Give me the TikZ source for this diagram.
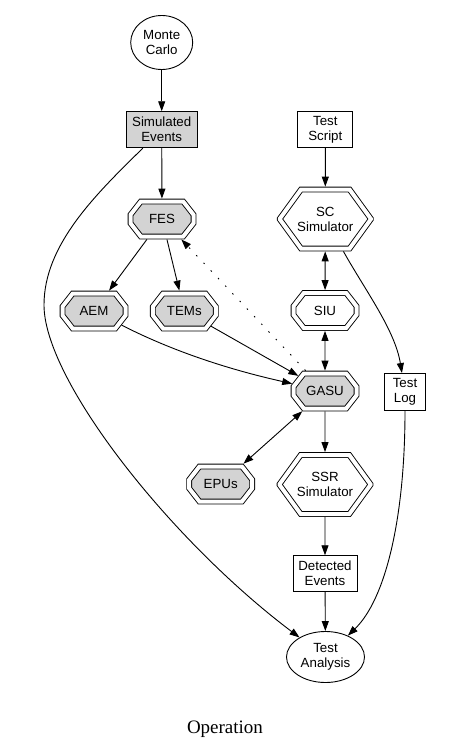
\documentclass[tikz,border=0pt]{standalone}
\usepackage{fontspec}
\setmainfont{Liberation Serif}
\setsansfont{Liberation Sans}
\usepackage{tikz}
\usetikzlibrary{positioning,arrows.meta,shapes.geometric,shapes.misc}
\definecolor{simgray}{RGB}{211,211,211}

\begin{document}
\begin{tikzpicture}[
    x=1pt, y=-1pt,
    every node/.style={align=center, inner sep=0pt, line width=0.9pt, font=\sffamily\fontsize{13.3}{15}\selectfont},
    box/.style={draw, rectangle, minimum height=36pt},
    oval/.style={draw, ellipse},
    octo/.style={draw, chamfered rectangle, chamfered rectangle xsep=11pt, chamfered rectangle ysep=8.5pt,
        chamfered rectangle angle=38, double, double distance=4pt, minimum width=63pt, minimum height=35pt, outer sep=2.9pt},
    bigocto/.style={octo, chamfered rectangle xsep=23pt, chamfered rectangle ysep=17pt,
        chamfered rectangle angle=36, minimum width=91pt, minimum height=59pt},
    shaded/.style={fill=simgray},
    flow/.style={draw, line width=0.9pt, -{Triangle[length=10pt,width=7pt]}},
    flowboth/.style={flow, {Triangle[length=10pt,width=7pt]}-{Triangle[length=10pt,width=7pt]}}
]
    \useasboundingbox (0,0) rectangle (448,752);

    % left column
    \node[oval, minimum width=62pt, minimum height=54pt] (mc) at (161.7,42.5) {Monte\\Carlo};
    \node[box, shaded, minimum width=71pt] (simev) at (161.7,129.7) {Simulated\\Events};
    \node[octo, shaded] (fes) at (162,219) {FES};
    \node[octo, shaded] (aem) at (94,311) {AEM};
    \node[octo, shaded] (tems) at (184.3,311) {TEMs};
    \node[octo, shaded] (epus) at (220.7,484) {EPUs};

    % right column
    \node[box, minimum width=55pt] (script) at (325.3,129.5) {Test\\Script};
    \node[bigocto] (scsim) at (325.3,219) {SC\\Simulator};
    \node[octo] (siu) at (325,310.5) {SIU};
    \node[octo, shaded] (gasu) at (325,391) {GASU};
    \node[box, minimum width=41pt, minimum height=37pt] (tlog) at (405,392) {Test\\Log};
    \node[bigocto] (ssr) at (325,484.5) {SSR\\Simulator};
    \node[box, minimum width=64pt] (detev) at (325,573.7) {Detected\\Events};
    \node[oval, minimum width=78pt, minimum height=51pt] (tana) at (325.5,657) {Test\\Analysis};

    \node[font=\rmfamily\fontsize{19}{22}\selectfont] (caption) at (225,729) {Operation};

    \coordinate (swing) at (44,305);

    \draw[flow] (mc) -- (simev);
    \draw[flow] (simev) -- (fes);
    \draw[flow] (simev) .. controls (95,195) and (44,245) .. (swing)
        .. controls (44,380) and (170,540) .. (tana);
    \draw[flow] (fes) -- (aem);
    \draw[flow] (fes) -- (tems);
    \draw[flow] (aem) .. controls (180,355) and (240,372) .. (gasu);
    \draw[flow] (tems) -- (gasu);
    \draw[flow, dash pattern=on 1.5pt off 9pt] (gasu) -- (fes);
    \draw[flowboth] (gasu) -- (epus);

    \draw[flow] (script) -- (scsim);
    \draw[flowboth] (scsim) -- (siu);
    \draw[flowboth] (siu) -- (gasu);
    \draw[flow] (scsim) .. controls (365,290) and (395,330) .. (tlog);
    \draw[flow] (tlog) .. controls (405,520) and (385,600) .. (tana);
    \draw[flow] (gasu) -- (ssr);
    \draw[flow] (ssr) -- (detev);
    \draw[flow] (detev) -- (tana);
\end{tikzpicture}
\end{document}
